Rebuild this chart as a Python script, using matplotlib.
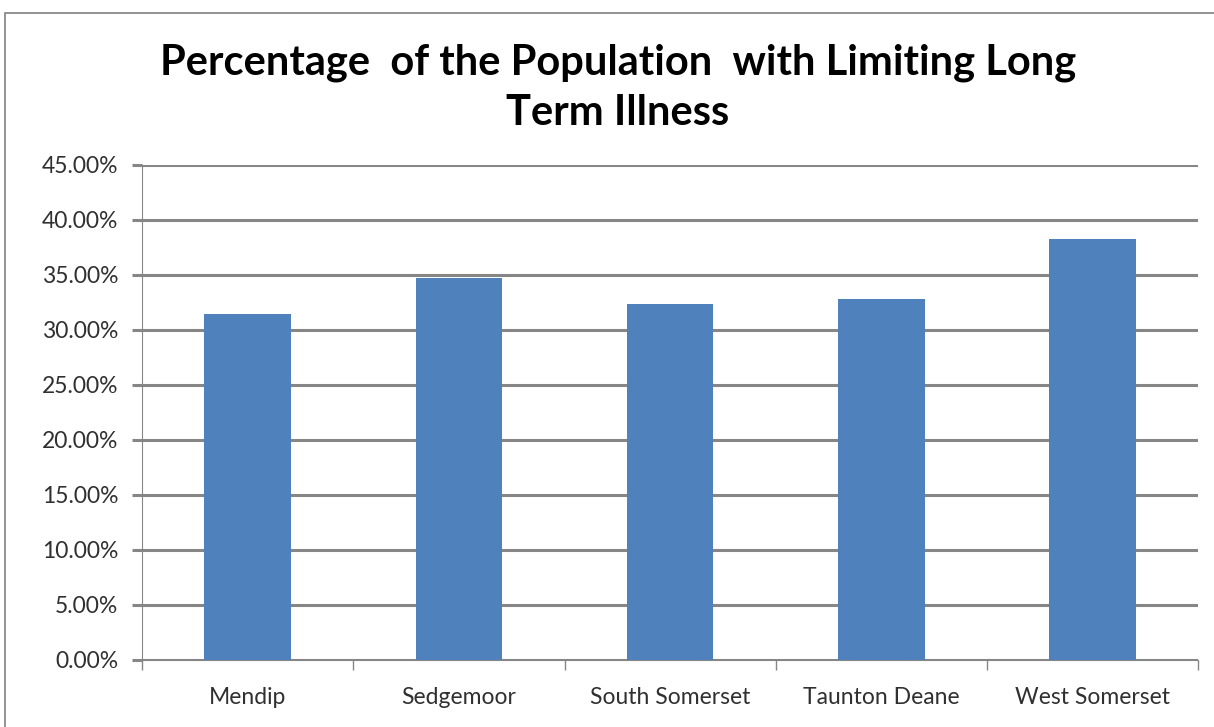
import matplotlib
matplotlib.use("Agg")
import matplotlib.pyplot as plt
from matplotlib.patches import Rectangle
from matplotlib.ticker import FixedLocator, PercentFormatter

districts = ["Mendip", "Sedgemoor", "South Somerset", "Taunton Deane", "West Somerset"]
illness_share = [0.3143, 0.3470, 0.3234, 0.3279, 0.3825]
y_ticks = [i * 0.05 for i in range(10)]

bar_color = "#4F81BD"
grid_color = "#868686"
text_color = "#303030"

fig = plt.figure(figsize=(12.14, 7.27), dpi=100)
ax = fig.add_axes([0.117, 0.0926, 0.870, 0.681])

# chart frame (only top and left edges fall inside the canvas)
fig.patches.append(Rectangle((0.004, -0.1), 1.1, 1.082, transform=fig.transFigure,
                             fill=False, edgecolor="#808080", linewidth=1.2))

x = list(range(len(districts)))
ax.bar(x, illness_share, width=0.41, color=bar_color, zorder=3)

ax.set_xlim(-0.5, len(districts) - 0.5)
ax.set_ylim(0, 0.45)
ax.set_yticks(y_ticks)
ax.yaxis.set_major_formatter(PercentFormatter(1.0, decimals=2))
ax.yaxis.grid(True, color=grid_color, linewidth=2.2, zorder=0)
ax.set_axisbelow(True)

ax.set_xticks(x)
ax.set_xticklabels(districts)
ax.xaxis.set_minor_locator(FixedLocator([i - 0.5 for i in range(len(districts) + 1)]))
ax.tick_params(axis="x", which="major", length=0, pad=20)
ax.tick_params(axis="x", which="minor", length=7, color=grid_color, width=1)
ax.tick_params(axis="y", length=7, color=grid_color, width=2.2, pad=10)

for lbl in ax.get_xticklabels() + ax.get_yticklabels():
    lbl.set_fontfamily("Lato")
    lbl.set_fontsize(16.5)
    lbl.set_color(text_color)

for side in ["top", "right"]:
    ax.spines[side].set_visible(False)
ax.spines["left"].set_color(grid_color)
ax.spines["left"].set_linewidth(0.8)
ax.spines["bottom"].set_color(grid_color)
ax.spines["bottom"].set_linewidth(0.8)

fig.text(0.509, 0.879, "Percentage  of the Population  with Limiting Long\nTerm Illness",
         ha="center", va="center", fontsize=30, fontweight="bold", family="Lato",
         linespacing=1.4, color="black")

fig.savefig("out.png", dpi=100)
